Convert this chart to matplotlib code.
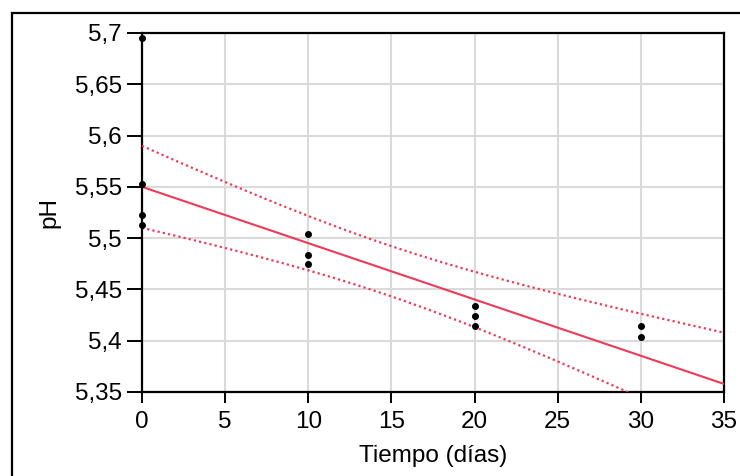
import numpy as np
import matplotlib
matplotlib.use("Agg")
import matplotlib.pyplot as plt
from matplotlib.ticker import FuncFormatter
from matplotlib.patches import Rectangle

dias = [0, 0, 0, 0, 10, 10, 10, 20, 20, 20, 30, 30]
ph = [5.695, 5.553, 5.523, 5.513, 5.504, 5.484, 5.475, 5.434, 5.424, 5.414, 5.414, 5.404]

# fitted line and confidence band as drawn in the reference
fit_intercept = 5.55
fit_slope = -0.00549
band_min = 0.0245      # narrowest half-width
band_center = 14.7     # x where the band is narrowest
band_curv = 4.61e-6    # growth of squared half-width

x_ticks = [0, 5, 10, 15, 20, 25, 30, 35]
y_ticks = [5.35, 5.4, 5.45, 5.5, 5.55, 5.6, 5.65, 5.7]

red = "#EE3A58"

plt.rcParams["font.family"] = ["Liberation Sans", "DejaVu Sans"]

fig = plt.figure(figsize=(7.4, 4.76), dpi=100)
ax = fig.add_axes([0.1919, 0.1765, 0.9784 - 0.1919, 0.9307 - 0.1765])

# outer frame of the figure
fig.patches.append(Rectangle((12 / 740, -0.2), 1.2, 1.2 - 13 / 476,
                             transform=fig.transFigure, fill=False,
                             edgecolor="black", linewidth=1.6))

xs = np.linspace(0, 35, 300)
fit = fit_intercept + fit_slope * xs
hw = np.sqrt(band_min ** 2 + band_curv * (xs - band_center) ** 2)

ax.plot(xs, fit, color=red, lw=1.5, zorder=3)
ax.plot(xs, fit + hw, color=red, lw=1.6, ls=(0, (1, 1.4)), zorder=3)
ax.plot(xs, fit - hw, color=red, lw=1.6, ls=(0, (1, 1.4)), zorder=3)

ax.plot(dias, ph, "o", color="black", ms=4, clip_on=False, zorder=5)

ax.set_xlim(0, 35)
ax.set_ylim(5.35, 5.7)
ax.set_xticks(x_ticks)
ax.set_yticks(y_ticks)
ax.yaxis.set_major_formatter(FuncFormatter(lambda v, p: f"{v:g}".replace(".", ",")))
ax.grid(True, color="#DADADA", lw=1.5, zorder=0)
ax.set_axisbelow(True)

for s in ax.spines.values():
    s.set_linewidth(1.6)
ax.tick_params(axis="y", length=10.5, width=1.4, pad=4, labelsize=17.5)
ax.tick_params(axis="x", length=8, width=1.4, pad=6, labelsize=17.5)

ax.set_xlabel("Tiempo (días)", fontsize=17.5, labelpad=8)
ax.set_ylabel("pH", fontsize=17.5, labelpad=10)

fig.savefig("out.png", dpi=100)
